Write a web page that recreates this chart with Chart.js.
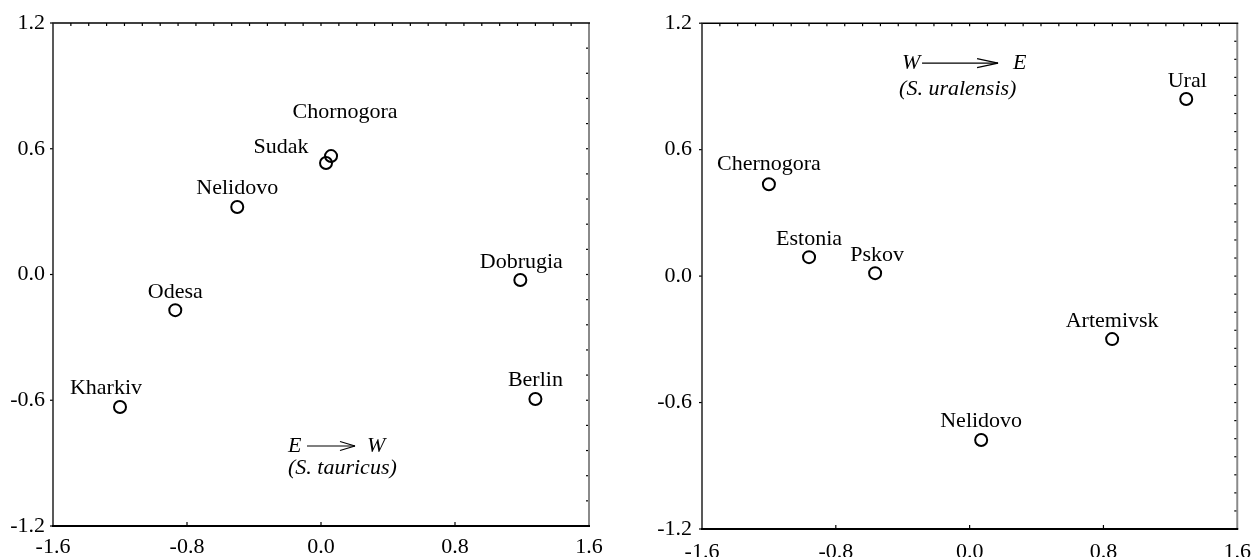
<!DOCTYPE html>
<html lang="en">
<head>
<meta charset="UTF-8">
<title>Ordination of populations</title>
<script src="https://cdn.jsdelivr.net/npm/chart.js"></script>
<style>
    body { margin: 0; background: #fff; overflow: hidden; }
    .panel { position: absolute; top: 0; height: 557px; }
    #left { left: 0; width: 620px; }
    #right { left: 640px; width: 621px; }
</style>
</head>
<body>
<div class="panel" id="left"><canvas id="tauricusChart"></canvas></div>
<div class="panel" id="right"><canvas id="uralensisChart"></canvas></div>
<script>
    const xTicks = [-1.6, -0.8, 0.0, 0.8, 1.6];
    const yTicks = [-1.2, -0.6, 0.0, 0.6, 1.2];

    const tauricusSites = ['Chornogora', 'Sudak', 'Nelidovo', 'Dobrugia', 'Odesa', 'Kharkiv', 'Berlin'];
    const tauricusX = [0.06, 0.03, -0.50, 1.19, -0.87, -1.20, 1.28];
    const tauricusY = [0.565, 0.532, 0.322, -0.026, -0.17, -0.632, -0.594];

    const uralensisSites = ['Ural', 'Chernogora', 'Estonia', 'Pskov', 'Artemivsk', 'Nelidovo'];
    const uralensisX = [1.295, -1.20, -0.96, -0.565, 0.852, 0.069];
    const uralensisY = [0.84, 0.436, 0.09, 0.014, -0.299, -0.778];

    // where each name sits relative to its circle, px: [dx, baseline dy]
    const tauricusLabelOffsets = [[14, -38], [-45, -10], [0, -13], [1, -12], [0, -12], [-14, -13], [0, -13]];
    const uralensisLabelOffsets = [[1, -12], [0, -14], [0, -12], [2, -12], [0, -12], [0, -13]];

    const serif = '"Liberation Serif", "DejaVu Serif", serif';

    function line(ctx, x1, y1, x2, y2) {
        ctx.beginPath();
        ctx.moveTo(x1, y1);
        ctx.lineTo(x2, y2);
        ctx.stroke();
    }

    const frameAndLabels = {
        id: 'frameAndLabels',
        beforeDatasetsDraw(chart, args, opts) {
            const { ctx, chartArea: a, scales: { x, y } } = chart;
            ctx.save();
            ctx.lineCap = 'butt';

            // minor ticks, top and right, pointing inward
            ctx.strokeStyle = '#000';
            ctx.lineWidth = 1.2;
            for (let i = 1; i < opts.topTicks; i++) {
                const px = a.left + (a.right - a.left) * i / opts.topTicks;
                line(ctx, px, a.top, px, a.top + 3);
            }
            for (let i = 1; i < opts.rightTicks; i++) {
                const py = a.top + (a.bottom - a.top) * i / opts.rightTicks;
                line(ctx, a.right, py, a.right - 3, py);
            }

            // major ticks
            xTicks.slice(1, -1).forEach(v => {
                const px = x.getPixelForValue(v);
                line(ctx, px, a.bottom, px, a.bottom - 4);
            });
            yTicks.forEach(v => {
                const py = y.getPixelForValue(v);
                line(ctx, a.left, py, a.left - 3, py);
            });

            // frame
            ctx.strokeStyle = '#8a8a8a';
            ctx.lineWidth = 2;
            line(ctx, a.right, a.top, a.right, a.bottom);
            ctx.strokeStyle = '#000';
            ctx.lineWidth = 1.5;
            line(ctx, a.left - 0.5, a.top, a.right + 1, a.top);
            ctx.strokeStyle = '#222';
            line(ctx, a.left, a.top, a.left, a.bottom);
            ctx.strokeStyle = '#000';
            ctx.lineWidth = 2;
            line(ctx, a.left - 1, a.bottom, a.right + 1, a.bottom);
            ctx.restore();
        },
        afterDatasetsDraw(chart, args, opts) {
            const { ctx, scales: { x, y } } = chart;
            const meta = chart.getDatasetMeta(0);
            ctx.save();
            ctx.fillStyle = '#000';
            ctx.font = '22px ' + serif;
            ctx.textAlign = 'center';
            ctx.textBaseline = 'alphabetic';
            meta.data.forEach((pt, i) => {
                const [dx, dy] = opts.offsets[i];
                ctx.fillText(opts.names[i], pt.x + dx, pt.y + dy);
            });

            // direction note
            const n = opts.note;
            const nx = x.getPixelForValue(n.x);
            const ny = y.getPixelForValue(n.y);
            ctx.font = 'italic 22px ' + serif;
            ctx.textAlign = 'left';
            ctx.fillText(n.from, nx, ny);
            const a0 = nx + n.arrowStart;
            const a1 = nx + n.arrowEnd;
            const ay = ny - 6;
            ctx.strokeStyle = '#000';
            ctx.lineWidth = 1.2;
            line(ctx, a0, ay, a1, ay);
            line(ctx, a1 - n.head, ay - 4.5, a1, ay);
            line(ctx, a1 - n.head, ay + 4.5, a1, ay);
            ctx.fillText(n.to, nx + n.toAt, ny);
            ctx.fillText(n.species, nx + n.speciesDx, ny + n.lineGap);
            ctx.restore();
        }
    };

    function buildChart(id, names, xs, ys, offsets, cfg) {
        const points = xs.map((v, i) => ({ x: v, y: ys[i] }));
        const tickFont = { family: serif, size: 22 };
        return new Chart(document.getElementById(id), {
            type: 'scatter',
            data: {
                datasets: [{
                    data: points,
                    pointRadius: 6,
                    pointHoverRadius: 6,
                    borderColor: '#000',
                    borderWidth: 2,
                    backgroundColor: 'rgba(0,0,0,0)'
                }]
            },
            options: {
                responsive: true,
                maintainAspectRatio: false,
                animation: false,
                layout: { padding: { top: 23, right: cfg.padRight, left: 0, bottom: 0 } },
                plugins: {
                    legend: { display: false },
                    tooltip: { enabled: false },
                    frameAndLabels: {
                        names: names,
                        offsets: offsets,
                        topTicks: cfg.topTicks,
                        rightTicks: cfg.rightTicks,
                        note: cfg.note
                    }
                },
                scales: {
                    x: {
                        type: 'linear',
                        min: -1.6,
                        max: 1.6,
                        afterBuildTicks: s => { s.ticks = xTicks.map(v => ({ value: v })); },
                        afterFit: s => { s.height = cfg.xHeight; },
                        ticks: {
                            callback: v => v.toFixed(1),
                            font: tickFont,
                            color: '#000',
                            padding: cfg.xPad,
                            maxRotation: 0,
                            autoSkip: false
                        },
                        grid: { display: false, drawTicks: false },
                        border: { display: false }
                    },
                    y: {
                        type: 'linear',
                        min: -1.2,
                        max: 1.2,
                        afterBuildTicks: s => { s.ticks = yTicks.map(v => ({ value: v })); },
                        afterFit: s => { s.width = cfg.yWidth; },
                        ticks: {
                            callback: v => v.toFixed(1),
                            font: tickFont,
                            color: '#000',
                            padding: cfg.yPad,
                            autoSkip: false
                        },
                        grid: { display: false, drawTicks: false },
                        border: { display: false }
                    }
                }
            },
            plugins: [frameAndLabels]
        });
    }

    buildChart('tauricusChart', tauricusSites, tauricusX, tauricusY, tauricusLabelOffsets, {
        padRight: 31, xHeight: 31, yWidth: 53, xPad: 8, yPad: 8,
        topTicks: 30, rightTicks: 20,
        note: {
            x: -0.197, y: -0.847, from: 'E', to: 'W', species: '(S. tauricus)',
            arrowStart: 19, arrowEnd: 67, head: 15, toAt: 79, speciesDx: 0, lineGap: 22
        }
    });

    buildChart('uralensisChart', uralensisSites, uralensisX, uralensisY, uralensisLabelOffsets, {
        padRight: 17, xHeight: 28, yWidth: 62, xPad: 10, yPad: 10,
        topTicks: 30, rightTicks: 28,
        note: {
            x: -0.404, y: 0.982, from: 'W', to: 'E', species: '(S. uralensis)',
            arrowStart: 20, arrowEnd: 96, head: 21, toAt: 111, speciesDx: -3, lineGap: 26
        }
    });
</script>
</body>
</html>
